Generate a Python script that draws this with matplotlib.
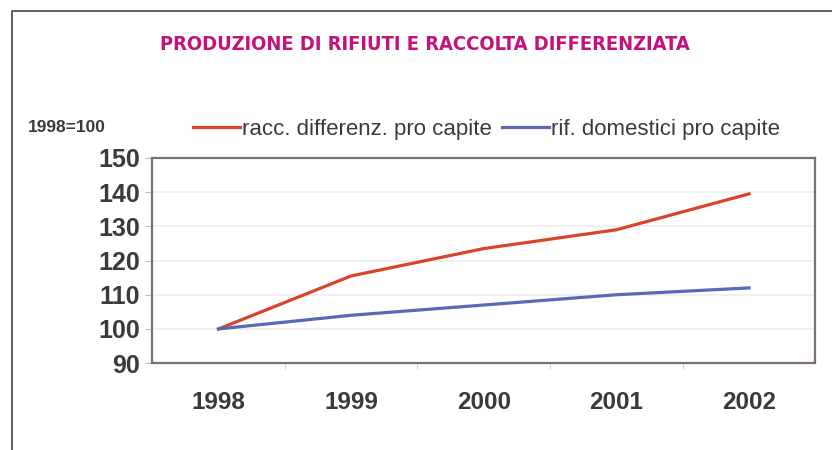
import matplotlib.pyplot as plt
from matplotlib.lines import Line2D

years = ['1998', '1999', '2000', '2001', '2002']
racc_diff = [100, 115.5, 123.5, 129, 139.5]
rif_dom = [100, 104, 107, 110, 112]
y_ticks = [90, 100, 110, 120, 130, 140, 150]

fig = plt.figure(figsize=(8.32, 4.5), dpi=100)
ax = fig.add_axes([0.183, 0.193, 0.797, 0.456])

x = list(range(len(years)))
ax.plot(x, racc_diff, color='#d9442a', lw=2.3, label='racc. differenz. pro capite')
ax.plot(x, rif_dom, color='#5a68b5', lw=2.3, label='rif. domestici pro capite')

ax.set_xlim(-0.5, len(years) - 0.5)
ax.set_ylim(90, 150)
ax.set_yticks(y_ticks)
ax.set_xticks(x)
ax.set_xticklabels(years)
ax.set_xticks([i + 0.5 for i in range(len(years) - 1)], minor=True)
ax.tick_params(axis='x', which='major', length=0, pad=20, labelsize=17.5, labelcolor='#3a3a3a')
ax.tick_params(axis='x', which='minor', length=4, color='#cccccc')
ax.tick_params(axis='y', length=5, color='#bbbbbb', labelsize=18, labelcolor='#3a3a3a', pad=4)
for lab in ax.get_xticklabels() + ax.get_yticklabels():
    lab.set_family('Liberation Sans')
    lab.set_fontweight('bold')

ax.grid(axis='y', color='#eeeeee', lw=1.2)
ax.set_axisbelow(True)
for s in ax.spines.values():
    s.set_color('#7d716d')
    s.set_linewidth(1.6)

leg = fig.legend(loc='center', bbox_to_anchor=(0.585, 0.712), ncol=2, frameon=False,
                 handlelength=2.1, handletextpad=0.1, columnspacing=0.45,
                 prop={'family': 'Liberation Sans', 'size': 16})
for t in leg.get_texts():
    t.set_color('#3a3a3a')

fig.text(0.033, 0.717, '1998=100', fontsize=12.5, family='Liberation Sans', color='#3a3a3a',
         va='center', ha='left', fontweight='bold')

fig.text(0.511, 0.9, 'PRODUZIONE DI RIFIUTI E RACCOLTA DIFFERENZIATA',
         ha='center', va='center', fontsize=14.4, fontweight='bold', color='#c2127b',
         family='DejaVu Sans', fontstretch='condensed')

# frame of the page
fig.add_artist(Line2D([12 / 832, 12 / 832, 1.0], [0.0, 1 - 11 / 450, 1 - 11 / 450],
                      transform=fig.transFigure, color='#444444', lw=1.2))

fig.savefig('out.png', dpi=100)
